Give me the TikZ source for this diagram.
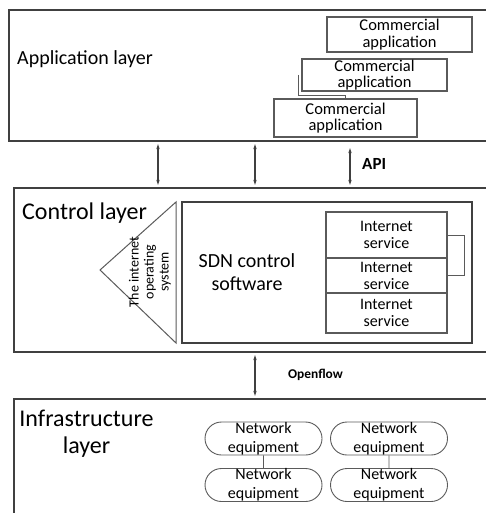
\documentclass[tikz,border=0pt]{standalone}
\usepackage{fontspec}
\setmainfont{Carlito}
\usetikzlibrary{arrows.meta,shapes.misc}
\definecolor{dkgray}{HTML}{404040}
\definecolor{midgray}{HTML}{5A5A5A}
\newcommand{\fsz}[2]{\fontsize{#1}{#2}\selectfont}
\begin{document}
\begin{tikzpicture}[x=1pt,y=-1pt,
		layer/.style={draw=dkgray,line width=2.4pt,inner sep=0pt},
		appbox/.style={draw=midgray,line width=1.2pt,fill=white,minimum width=145pt,align=center,inner sep=0pt,font=\fsz{16.5}{16.5}},
		svcbox/.style={draw=midgray,line width=1.2pt,minimum width=121pt,align=center,inner sep=0pt,font=\fsz{16}{17}},
		equip/.style={draw=midgray,line width=0.9pt,rounded rectangle,minimum width=117pt,minimum height=33pt,align=center,inner sep=0pt,font=\fsz{16}{19}},
		link/.style={draw=dkgray,line width=1.3pt,{Latex[length=7pt,width=3.5pt]}-{Latex[length=7pt,width=3.5pt]}},
		title/.style={inner sep=0pt,anchor=base west}]
	\useasboundingbox (0,0) rectangle (485,513);
	% the three layers, open to the right
	\node[layer,minimum width=491pt,minimum height=131pt] (app) at (254.5,75.5) {};
	\node[layer,minimum width=486pt,minimum height=164pt] (ctrl) at (257,270) {};
	\node[layer,minimum width=486pt,minimum height=131pt] (infra) at (257,464.5) {};
	\node[title,font=\fsz{20}{22}] (applbl) at (17,65) {Application layer};
	\node[title,font=\fsz{24}{27}] (ctrllbl) at (22,219) {Control layer};
	\node[align=center,inner sep=0pt,font=\fsz{24}{27}] (infralbl) at (86.5,434) {Infrastructure\\layer};
	% application layer
	\node[appbox,minimum height=35pt] (capp1) at (399.5,34.5) {Commercial\\application};
	\node[appbox,minimum height=32pt] (capp2) at (374.5,75) {Commercial\\application};
	\node[appbox,minimum width=143pt,minimum height=38pt] (capp3) at (345.5,118) {Commercial\\application};
	\draw[midgray,line width=1pt] ([xshift=-3pt]capp2.west) |- ([yshift=3pt]capp3.north) -- (capp3.north);
	% interfaces
	\draw[link] (158,0 |- app.south) -- (158,0 |- ctrl.north);
	\draw[link] (255,0 |- app.south) -- (255,0 |- ctrl.north);
	\draw[link] ([yshift=-4pt]350,0 |- app.south) -- (350,0 |- ctrl.north);
	\node[anchor=west,inner sep=0pt,font=\bfseries\fsz{17}{18}] (apilbl) at (362,164) {API};
	\draw[link] (255,0 |- ctrl.south) -- (255,0 |- infra.north);
	\node[inner sep=0pt,font=\bfseries\fsz{13.4}{15}] (oflbl) at (315.5,375) {Openflow};
	% control layer
	\draw[midgray,line width=1pt] (100,270) -- (176,202) -- (176,343) -- cycle;
	\node[rotate=90,align=center,inner sep=0pt,font=\fsz{14}{15}] (osys) at (150,272) {The internet\\operating\\system};
	\node[draw=dkgray,line width=1.5pt,minimum width=290pt,minimum height=141pt] (sdn) at (327,272.5) {};
	\node[align=center,inner sep=0pt,font=\fsz{20}{23}] (sdntxt) at (247,272) {SDN control\\software};
	\node[svcbox,minimum height=46pt] (isvc1) at (386.5,235) {Internet\\service};
	\node[svcbox,minimum height=35pt] (isvc2) at (386.5,275.5) {Internet\\service};
	\node[svcbox,minimum height=40pt] (isvc3) at (386.5,313) {Internet\\service};
	\draw[midgray,line width=1pt] (isvc1.east) -- ++(17,0) |- (isvc2.east);
	% infrastructure layer
	\node[equip] (neq1) at (263.5,438.5) {Network\\equipment};
	\node[equip] (neq2) at (389,438.5) {Network\\equipment};
	\node[equip] (neq3) at (263.5,485) {Network\\equipment};
	\node[equip] (neq4) at (389,485) {Network\\equipment};
	\draw[midgray,line width=0.9pt] (neq1) -- (neq3);
	\draw[midgray,line width=0.9pt] (neq2) -- (neq4);
\end{tikzpicture}
\end{document}
